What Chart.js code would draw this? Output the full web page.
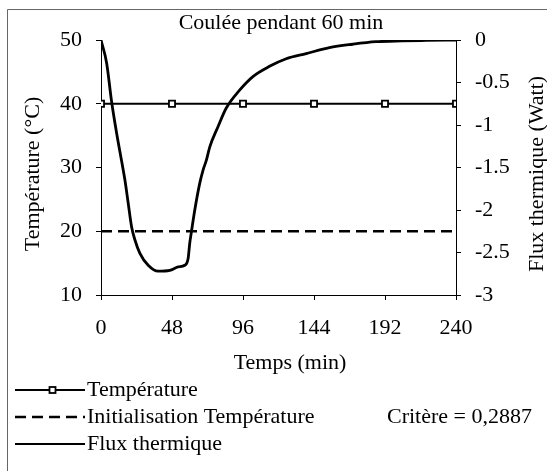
<!DOCTYPE html>
<html>
<head>
<meta charset="utf-8">
<script src="https://cdn.jsdelivr.net/npm/chart.js@4"></script>
<style>
  html, body { margin: 0; padding: 0; background: #fff; }
  #wrap { width: 547px; height: 471px; position: relative; }
</style>
</head>
<body>
<div id="wrap"><canvas id="c"></canvas></div>
<script>
// ---- Data ----
const xTickValues = [0, 48, 96, 144, 192, 240];
const leftTickValues = [10, 20, 30, 40, 50];
const rightTickValues = [-3, -2.5, -2, -1.5, -1, -0.5, 0];

const tempTime = [0, 48, 96, 144, 192, 240];
const tempValue = [40, 40, 40, 40, 40, 40];

const initTime = [0, 240];
const initValue = [20, 20];

const fluxTime = [0, 3.8, 7.2, 10.6, 14, 16.2, 18.4, 20.7, 22.9, 26.3, 31.9, 38.6, 46.5, 52.1, 56.6, 58.9, 60, 61.1, 63.4, 66.7, 69, 71.3, 73.5, 79.1, 84.7, 93.7, 102.7, 113.9, 125.2, 138.7, 154.4, 170.1, 185.9, 203.8, 220, 240];
const fluxValue = [0, -0.27, -0.73, -1.10, -1.43, -1.65, -1.92, -2.20, -2.35, -2.51, -2.65, -2.72, -2.71, -2.67, -2.65, -2.57, -2.39, -2.26, -2.00, -1.69, -1.53, -1.41, -1.26, -1.02, -0.80, -0.59, -0.43, -0.31, -0.22, -0.16, -0.09, -0.05, -0.02, -0.01, -0.005, 0];

const titleText = 'Coulée pendant 60 min';
const xTitle = 'Temps (min)';
const yLeftTitle = 'Température (°C)';
const yRightTitle = 'Flux thermique (Watt)';
const legendLabels = ['Température', 'Initialisation Température', 'Flux thermique'];
const critereText = 'Critère = 0,2887';

// ---- Chart ----
const FONT = 'Liberation Serif, "Times New Roman", serif';
Chart.defaults.font.family = FONT;
Chart.defaults.font.size = 22;
Chart.defaults.color = '#000';

const zip = (xs, ys) => xs.map((x, i) => ({ x: x, y: ys[i] }));

const decor = {
  id: 'decor',
  afterDraw(chart) {
    const ctx = chart.ctx;
    ctx.save();
    // outer frame (top & left visible)
    ctx.strokeStyle = '#666';
    ctx.lineWidth = 1;
    ctx.beginPath();
    ctx.moveTo(7.5, 471);
    ctx.lineTo(7.5, 9.5);
    ctx.lineTo(547, 9.5);
    ctx.stroke();

    ctx.fillStyle = '#000';
    ctx.font = '22px ' + FONT;
    ctx.textBaseline = 'middle';
    ctx.textAlign = 'center';
    ctx.fillText(titleText, 281, 23);
    ctx.fillText(xTitle, 290, 363);
    ctx.save();
    ctx.translate(33, 174);
    ctx.rotate(-Math.PI / 2);
    ctx.fillText(yLeftTitle, 0, 0);
    ctx.restore();
    ctx.save();
    ctx.translate(537, 174);
    ctx.rotate(-Math.PI / 2);
    ctx.fillText(yRightTitle, 0, 0);
    ctx.restore();

    // legend
    const rows = [390, 417, 444];
    const x0 = 15, x1 = 85;
    ctx.strokeStyle = '#000';
    ctx.lineWidth = 1.8;
    ctx.beginPath(); ctx.moveTo(x0, rows[0]); ctx.lineTo(x1, rows[0]); ctx.stroke();
    ctx.fillStyle = '#fff';
    ctx.fillRect(49.5, rows[0] - 3, 6, 6);
    ctx.strokeRect(49.5, rows[0] - 3, 6, 6);
    ctx.lineWidth = 2.5;
    ctx.setLineDash([11, 6]);
    ctx.beginPath(); ctx.moveTo(x0, rows[1]); ctx.lineTo(x1, rows[1]); ctx.stroke();
    ctx.setLineDash([]);
    ctx.lineWidth = 2;
    ctx.beginPath(); ctx.moveTo(x0, rows[2]); ctx.lineTo(x1, rows[2]); ctx.stroke();

    ctx.fillStyle = '#000';
    ctx.textAlign = 'left';
    legendLabels.forEach((t, i) => ctx.fillText(t, 87, rows[i]));
    ctx.fillText(critereText, 387, rows[1]);
    ctx.restore();
  }
};

const axisGrid = { display: true, drawOnChartArea: false, drawTicks: true, tickLength: 5, color: '#000', lineWidth: 1 };
const axisBorder = { display: true, color: '#000', width: 1 };

new Chart(document.getElementById('c'), {
  type: 'scatter',
  data: {
    datasets: [
      {
        label: legendLabels[0],
        data: zip(tempTime, tempValue),
        yAxisID: 'y',
        showLine: true,
        borderColor: '#000',
        borderWidth: 2,
        pointStyle: 'rect',
        pointRadius: 4.3,
        pointBackgroundColor: '#fff',
        pointBorderColor: '#000',
        pointBorderWidth: 1.8
      },
      {
        label: legendLabels[1],
        data: zip(initTime, initValue),
        yAxisID: 'y',
        showLine: true,
        borderColor: '#000',
        borderWidth: 2.5,
        borderDash: [11, 6],
        pointRadius: 0
      },
      {
        label: legendLabels[2],
        data: zip(fluxTime, fluxValue),
        yAxisID: 'y2',
        showLine: true,
        borderColor: '#000',
        borderWidth: 2.8,
        cubicInterpolationMode: 'monotone',
        pointRadius: 0
      }
    ]
  },
  options: {
    responsive: true,
    maintainAspectRatio: false,
    animation: false,
    events: [],
    layout: { padding: { top: 40, left: 0, right: 0, bottom: 0 } },
    plugins: { legend: { display: false }, tooltip: { enabled: false }, title: { display: false } },
    scales: {
      x: {
        type: 'linear', position: 'bottom', min: 0, max: 240,
        afterBuildTicks: s => { s.ticks = xTickValues.map(v => ({ value: v })); },
        afterFit: s => { s.height = 176; },
        ticks: { padding: 15, maxRotation: 0, autoSkip: false, callback: v => String(v) },
        grid: axisGrid, border: axisBorder
      },
      y: {
        type: 'linear', position: 'left', min: 10, max: 50,
        afterBuildTicks: s => { s.ticks = leftTickValues.map(v => ({ value: v })); },
        afterFit: s => { s.width = 101; },
        ticks: { padding: 14, callback: v => String(v) },
        grid: axisGrid, border: axisBorder
      },
      y2: {
        type: 'linear', position: 'right', min: -3, max: 0,
        afterBuildTicks: s => { s.ticks = rightTickValues.map(v => ({ value: v })); },
        afterFit: s => { s.width = 91; },
        ticks: { padding: 14, callback: v => String(v) },
        grid: axisGrid, border: axisBorder
      }
    }
  },
  plugins: [decor]
});
</script>
</body>
</html>
